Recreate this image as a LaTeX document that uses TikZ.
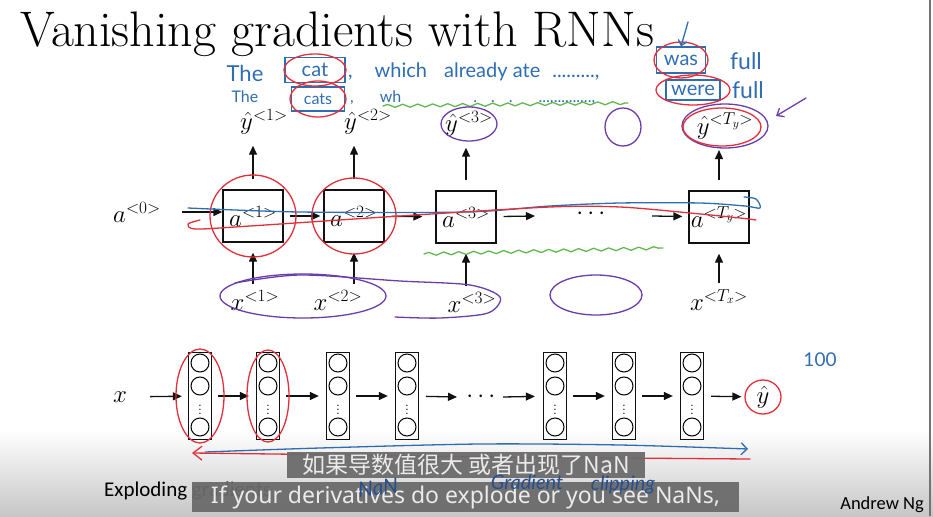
\documentclass[tikz,border=0pt]{standalone}
\usepackage{amsmath}
\usepackage{fontspec}
\newfontfamily\cjk{Noto Sans CJK SC}
\newfontfamily\subfont{Noto Sans}
\newfontfamily\slidefont{Carlito}
\newfontfamily\handfont{Lato}
\usetikzlibrary{arrows.meta, calc, decorations.pathmorphing}
\definecolor{ink}{HTML}{111111}
\definecolor{penred}{HTML}{E2303A}
\definecolor{penblue}{HTML}{2F6DB3}
\definecolor{pennavy}{HTML}{24508F}
\definecolor{penpurple}{HTML}{6A3DAA}
\definecolor{pengreen}{HTML}{62B84F}
\newcommand{\tsup}[1]{^{\mbox{\fontsize{18.5}{18.5}\selectfont$\mathord{<}#1\mathord{>}$}}}

\begin{document}
\begin{tikzpicture}[x=1pt, y=-1pt,
  cell/.style={draw=ink, line width=1.3pt, minimum width=60pt, minimum height=52pt,
               inner sep=0pt, font=\fontsize{25}{25}\selectfont},
  layer/.style={draw=ink, line width=1.3pt, minimum width=23pt, minimum height=87pt, inner sep=0pt},
  lbl/.style={inner sep=1pt, font=\fontsize{25}{25}\selectfont},
  flow/.style={->, draw=ink, line width=1.3pt},
  pen/.style={line width=1.3pt, line cap=round, line join=round},
  hand/.style={inner sep=0pt, text=penblue, font=\handfont\fontsize{20}{20}\selectfont},
  boxed/.style={hand, draw=penblue, line width=1.2pt},
  sub/.style={fill=black!58, fill opacity=0.95, text opacity=1, text=black!8, inner sep=0pt},
  >={Triangle[length=9pt, width=8pt]}
]
\useasboundingbox (0,0) rectangle (933,516);
\shade[top color=white, bottom color=black!22] (0,430) rectangle (933,516);
\draw[black!55, line width=1.5pt] (930,0) -- (930,516);

% title
\node[anchor=base west, inner sep=0pt, font=\fontsize{50}{50}\selectfont] (title) at (20,47) {Vanishing gradients with RNNs};

% recurrent net, top
\node[cell] (a1) at (253,216) {$a\tsup{1}$};
\node[cell] (a2) at (354,216) {$a\tsup{2}$};
\node[cell] (a3) at (466,217) {$a\tsup{3}$};
\node[cell] (aT) at (719,217) {$a\tsup{T_y}$};
\node[lbl] (a0) at (137,212) {$a\tsup{0}$};
\node[lbl] (dots1) at (593,214) {$\cdots$};
\coordinate (a3out) at (535,216);
\coordinate (aTin) at (652,216);

\node[lbl] (y1) at (264,122) {$\hat{y}\tsup{1}$};
\node[lbl] (y2) at (368,122) {$\hat{y}\tsup{2}$};
\node[lbl] (y3) at (469,124) {$\hat{y}\tsup{3}$};
\node[lbl] (yT) at (725,126) {$\hat{y}\tsup{T_y}$};
\node[lbl] (x1) at (255,300) {$x\tsup{1}$};
\node[lbl] (x2) at (338,300) {$x\tsup{2}$};
\node[lbl] (x3) at (472,302) {$x\tsup{3}$};
\node[lbl] (xT) at (719,300) {$x\tsup{T_x}$};

\draw[flow, shorten <=20pt] (a0.east) -- (a0.east -| a1.west);
\draw[flow, shorten <=6pt, shorten >=3pt] (a1) -- (a2);
\draw[flow, shorten <=7pt, shorten >=13pt] (a2) -- (a3);
\draw[flow, shorten <=7pt] (a3) -- (a3out);
\draw[flow, shorten >=6pt] (aTin) -- (aT);
\foreach \cl/\yl in {a1/y1, a2/y2, a3/y3, aT/yT}
  \draw[flow, shorten <=10pt, shorten >=10pt] (\cl.north) -- (\cl.north |- \yl.south);
\foreach \cl/\xl in {a1/x1, a2/x2, a3/x3, aT/xT}
  \draw[flow, shorten <=5pt, shorten >=10pt] (\cl.south |- \xl.north) -- (\cl.south);

% deep net, bottom
\foreach \col/\px in {c1/200, c2/268, c3/338, c4/407, c5/555, c6/624, c7/692} {
  \node[layer] (\col) at (\px,396) {};
  \foreach \dy in {-33,-10,31}
    \draw[line width=1pt] ($(\col)+(0,\dy)$) circle[radius=9pt];
  \node[inner sep=0pt, font=\fontsize{14}{14}\selectfont] (\col-dots) at ($(\col)+(0,11)$) {$\vdots$};
}
\node[lbl] (xin) at (120,397) {$x$};
\node[lbl] (yout) at (763,397) {$\hat{y}$};
\node[lbl] (dots2) at (483,397) {$\cdots$};
\coordinate (c4out) at (457,397);
\coordinate (c5in) at (503,397);
\draw[flow, shorten <=22pt, shorten >=6pt] (xin) -- (c1);
\foreach \pa/\pb in {c1/c2, c2/c3, c3/c4, c5/c6, c6/c7}
  \draw[flow, shorten <=6pt, shorten >=7pt] (\pa) -- (\pb);
\draw[flow, shorten <=7pt] (c4) -- (c4out);
\draw[flow, shorten >=8pt] (c5in) -- (c5);
\draw[flow, shorten <=7pt, shorten >=14pt] (c7) -- (yout);

\node[anchor=base west, inner sep=0pt, font=\slidefont\fontsize{21}{21}\selectfont] (explode) at (104,496) {Exploding gradients};
\node[anchor=base east, inner sep=0pt, font=\slidefont\fontsize{18.5}{18.5}\selectfont] (author) at (924,509) {Andrew Ng};

% pen notes
\node[hand, font=\handfont\fontsize{22}{22}\selectfont] (h1the) at (245,73) {The};
\node[boxed, minimum width=60pt, minimum height=25pt] (h1cat) at (315,70) {cat};
\node[hand, anchor=west] (h1rest) at (348,72) {,\hspace{22pt}which\hspace{17pt}already ate\hspace{12pt}.........,};
\node[boxed, minimum width=49pt, minimum height=26pt] (h1was) at (681,60) {was};
\node[hand, font=\handfont\fontsize{23}{23}\selectfont] (h1full) at (746,61) {full};
\node[hand, font=\handfont\fontsize{16}{16}\selectfont] (h2the) at (245,97) {The};
\node[boxed, font=\handfont\fontsize{16}{16}\selectfont, minimum width=53pt, minimum height=24pt] (h2cats) at (318,99) {cats};
\node[hand, anchor=west, font=\handfont\fontsize{16}{16}\selectfont] (h2rest) at (350,98) {,\hspace{26pt}wh\hspace{72pt}.\hspace{14pt}.\hspace{14pt}.\hspace{26pt}..............,};
\node[boxed, minimum width=54pt, minimum height=20pt] (h2were) at (693,90) {were};
\node[hand, font=\handfont\fontsize{23}{23}\selectfont] (h2full) at (748,90) {full};

\draw[pen, penred] (h1cat) ellipse[x radius=31pt, y radius=16pt];
\draw[pen, penred] (h2cats) ellipse[x radius=28pt, y radius=18pt];
\draw[pen, penred] (h1was) ellipse[x radius=27pt, y radius=18pt];
\draw[pen, penred] (h2were) ellipse[x radius=37pt, y radius=15pt];
\coordinate (wasmark) at (688,22);
\draw[pen, penblue, -{Straight Barb[length=5pt, width=9pt]}] (wasmark) -- (h1was.north);

\draw[pen, pengreen, decorate, decoration={snake, amplitude=1.5pt, segment length=15pt}] (383,106) -- (628,103);
\draw[pen, pengreen, decorate, decoration={snake, amplitude=1.5pt, segment length=15pt}] (424,254) -- (663,248);

\draw[pen, penpurple] (y3) ellipse[x radius=28pt, y radius=17pt];
\draw[pen, penpurple] (623,127) ellipse[x radius=18pt, y radius=19pt];
\draw[pen, penpurple] (yT) ellipse[x radius=43pt, y radius=22pt];
\draw[pen, penred] ($(yT)+(-3,1)$) ellipse[x radius=39pt, y radius=19pt];
\coordinate (purpletail) at (806,98);
\coordinate (purpletip) at (776,116);
\draw[pen, penpurple, -{Straight Barb[length=6pt, width=10pt]}] (purpletail) -- (purpletip);

\draw[pen, penred] (a1) ellipse[x radius=43pt, y radius=41pt];
\draw[pen, penred] (a2) ellipse[x radius=42pt, y radius=38pt];
\draw[pen, penblue] plot[smooth] coordinates {(188,208) (300,212) (466,212) (550,206) (620,203) (700,203) (745,206) (760,208) (756,199) (744,197)};
\draw[pen, penred] plot[smooth] coordinates {(200,220) (188,224) (196,229) (250,226) (400,216) (550,207) (620,207) (690,213) (740,218) (756,220)};

\draw[pen, penpurple] (303,296) ellipse[x radius=83pt, y radius=22pt];
\draw[pen, penpurple] plot[smooth] coordinates {(235,283) (300,275) (400,281) (470,285) (500,297) (488,313) (440,318) (395,317)};
\draw[pen, penpurple] (596,295) ellipse[x radius=46pt, y radius=20pt];

\draw[pen, penred] (c1) ellipse[x radius=24pt, y radius=47pt];
\draw[pen, penred] (c2) ellipse[x radius=21pt, y radius=46pt];
\draw[pen, penred] (yout) ellipse[x radius=18pt, y radius=17pt];
\draw[pen, penblue, -{Straight Barb[length=6pt, width=12pt]}] plot[smooth] coordinates {(205,452) (320,448) (480,444) (620,445) (748,449)};
\draw[pen, penred, {Straight Barb[length=9pt, width=14pt]}-] plot[smooth] coordinates {(192,453) (350,455) (480,457) (620,458) (750,459)};
\node[hand, text=penblue, font=\handfont\fontsize{19}{19}\selectfont] (hundred) at (820,360) {100};

% subtitles
\node[sub, minimum width=358pt, minimum height=26pt] (subzh) at (466,465) {\cjk\fontsize{23}{23}\selectfont 如果导数值很大 或者出现了NaN};
\node[sub, minimum width=547pt, minimum height=30pt] (suben) at (465.5,497) {\subfont\fontsize{23}{23}\selectfont If your derivatives do explode or you see NaNs,};
\node[hand, text=pennavy, rotate=6, font=\handfont\itshape\fontsize{21}{21}\selectfont] (nan) at (378,488) {NaN};
\node[hand, text=pennavy, font=\handfont\itshape\fontsize{20}{20}\selectfont] (grad) at (527,482) {Gradient};
\node[hand, text=pennavy, font=\handfont\itshape\fontsize{20}{20}\selectfont] (clip) at (623,485) {clipping};
\end{tikzpicture}
\end{document}
